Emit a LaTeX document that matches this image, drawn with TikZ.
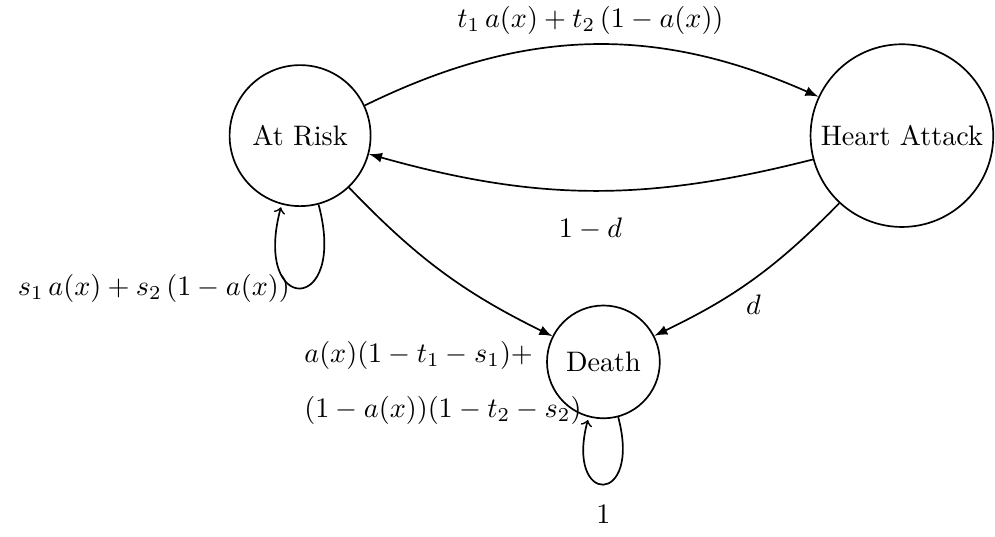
\documentclass[tikz,border=0pt]{standalone}
\usepackage{amsmath,amssymb}
\usepackage{tikz}
\usetikzlibrary{arrows,positioning}

\begin{document}
\begin{tikzpicture}[
  st/.style={draw, circle, semithick, inner sep=3pt},
  arr/.style={-latex, semithick},
  lp/.style={->, shorten >=1pt, semithick, loop, looseness=8}
]
\useasboundingbox (-3.74,-5.0) rectangle (8.66,1.69);
\node[st, minimum size=50pt] (risk) at (0,0) {At Risk};
\node[st] (heart) at (7.5,0) {Heart Attack};
\node[st, minimum size=40pt] (death) at (3.78,-2.82) {Death};
\node[align=left] (deathlbl) at (1.78,-3.08) {$a(x)(1-t_1-s_1)+$\\[7.5pt]$(1-a(x))(1-t_2-s_2)$};

\draw[arr] (risk) to[bend left=25] node[above] {$t_1\,a(x)+t_2\,(1-a(x))$} (heart);
\draw[arr] (heart) to[bend left=15] node[below=6pt] {$1-d$} (risk);
\draw[arr] (risk) to[bend right=10] (death);
\draw[arr] (heart) to[bend left=10] node[below=2pt] {$d$} (death);
\draw[lp] (risk) to[out=-75, in=-105] node[left] {$s_1\,a(x)+s_2\,(1-a(x))$} (risk);
\draw[lp] (death) to[out=-75, in=-105] node[below=4pt] {$1$} (death);
\end{tikzpicture}
\end{document}
